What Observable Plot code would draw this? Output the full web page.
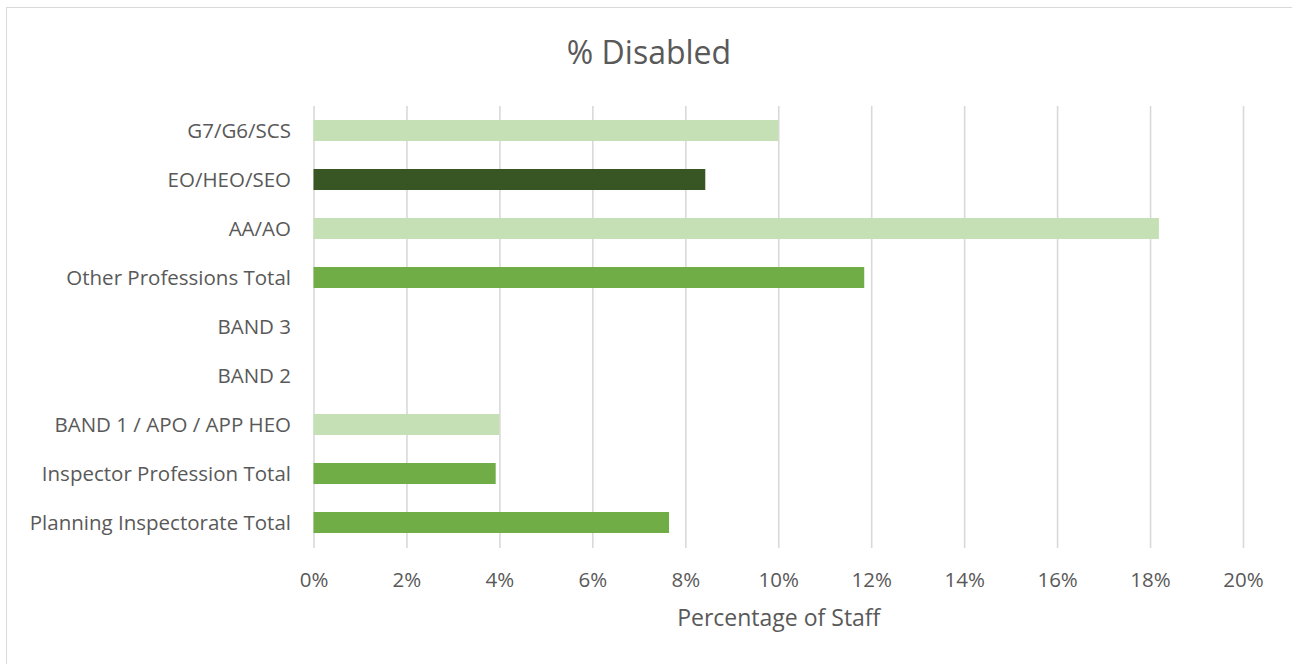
<!DOCTYPE html>
<html>
<head>
<meta charset="utf-8">
<script src="https://cdn.jsdelivr.net/npm/d3@7"></script>
<script src="https://cdn.jsdelivr.net/npm/@observablehq/plot@0.6"></script>
<style>
  html, body { margin: 0; padding: 0; background: #fff; overflow: hidden; }
  #wrap { position: relative; width: 1292px; height: 664px; overflow: hidden; }
  #frame { position: absolute; left: 6px; top: 7px; width: 1500px; height: 900px; border: 1.5px solid #d9d9d9; box-sizing: border-box; }
  #title { position: absolute; left: 0; width: 1298px; top: 31px; text-align: center; font-family: "Open Sans", sans-serif; font-size: 32px; color: #595959; line-height: 42px; }
  #chart { position: absolute; left: 0; top: 0; }
</style>
</head>
<body>
<div id="wrap">
  <div id="frame"></div>
  <div id="chart"></div>
  <div id="title">% Disabled</div>
</div>
<script>
const categories = [
  "G7/G6/SCS",
  "EO/HEO/SEO",
  "AA/AO",
  "Other Professions Total",
  "BAND 3",
  "BAND 2",
  "BAND 1 / APO / APP HEO",
  "Inspector Profession Total",
  "Planning Inspectorate Total"
];
const values = [10.0, 8.43, 18.19, 11.85, 0, 0, 4.0, 3.92, 7.65];
const barColors = ["#C5E0B4", "#375623", "#C5E0B4", "#70AD47", "#375623", "#C5E0B4", "#C5E0B4", "#70AD47", "#70AD47"];
const xTicks = [0, 2, 4, 6, 8, 10, 12, 14, 16, 18, 20];
const xLabel = "Percentage of Staff";

const rows = categories.map((c, i) => ({category: c, value: values[i], color: barColors[i]}));
const font = "'Open Sans', sans-serif";

const chart = Plot.plot({
  width: 1292,
  height: 664,
  marginLeft: 313.5,
  marginRight: 49,
  marginTop: 106,
  marginBottom: 116,
  style: {fontFamily: font, background: "transparent", overflow: "visible"},
  x: {domain: [0, 20]},
  y: {domain: categories, paddingInner: 0.57, paddingOuter: 0.285},
  marks: [
    Plot.ruleX(xTicks, {stroke: "#d9d9d9", strokeWidth: 1.6}),
    Plot.barX(rows, {x: "value", y: "category", fill: "color"}),
    Plot.axisY({tickSize: 0, tickPadding: 23, fontSize: 20.5, fill: "#595959", label: null}),
    Plot.axisX({ticks: xTicks, tickFormat: d => d + "%", tickSize: 0, tickPadding: 24, fontSize: 20.5, fill: "#595959", label: null}),
    Plot.text([xLabel], {frameAnchor: "bottom", dy: 77, text: d => d, fontSize: 23, fill: "#595959"})
  ]
});
document.getElementById("chart").appendChild(chart);
</script>
</body>
</html>
